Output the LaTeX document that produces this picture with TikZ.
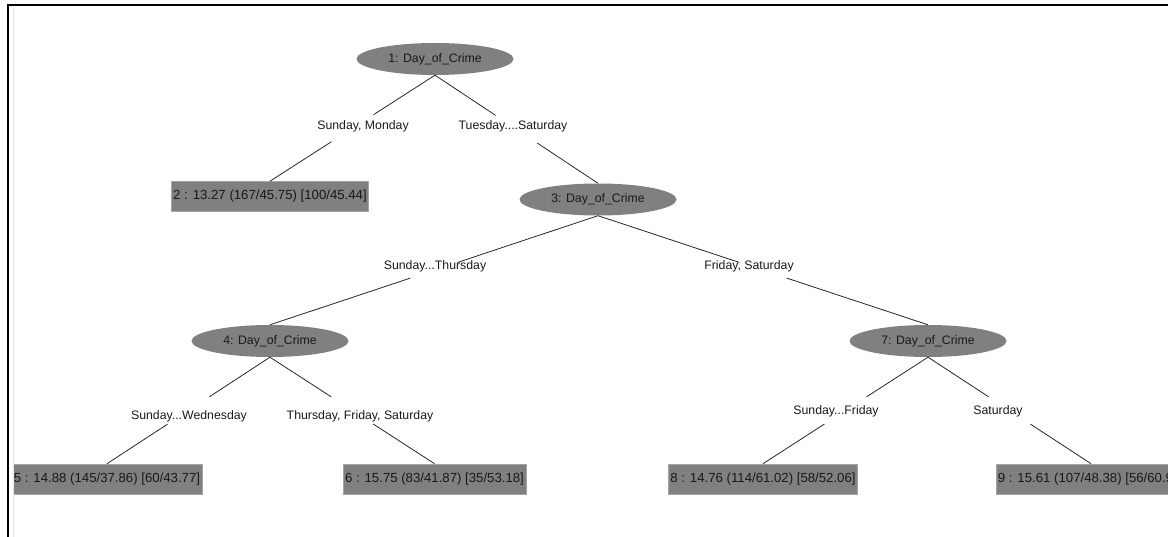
\documentclass[tikz,border=0pt]{standalone}
\usepackage{fontspec}
\setmainfont{Liberation Sans}
\usetikzlibrary{shapes.geometric}
\definecolor{nodegray}{RGB}{128,128,128}
\definecolor{textgray}{RGB}{25,25,25}
\definecolor{faintline}{RGB}{226,230,238}

\begin{document}
\begin{tikzpicture}[x=1pt, y=-1pt,
		split/.style = {ellipse, fill=nodegray, text=textgray, minimum width=157, minimum height=32, inner sep=0pt, font=\fontsize{12.3}{14}\selectfont},
		leaf/.style = {rectangle, fill=nodegray, draw=gray!70, line width=0.6, text=textgray, minimum height=30, inner xsep=2pt, font=\fontsize{13.2}{15}\selectfont},
		cond/.style = {text=textgray, inner sep=1pt, font=\fontsize{12.3}{14}\selectfont},
		edge/.style = {black!85, line width=0.8, shorten >=25pt}]
		\useasboundingbox (0,0) rectangle (1168,537);
		\draw[line width=2.5] (8,537) |- (1168,5);
		\draw[faintline, line width=1] (13,8) -- (13,537);
		\begin{scope}
		\clip (14,7) rectangle (1168,537);
		\node[split] (n1) at (435,59) {1: Day\_of\_Crime};
		\node[leaf] (n2) at (270,196.5) {2 : 13.27 (167/45.75) [100/45.44]};
		\node[split] (n3) at (598,199.5) {3: Day\_of\_Crime};
		\node[split] (n4) at (270,341) {4: Day\_of\_Crime};
		\node[split] (n7) at (928,341) {7: Day\_of\_Crime};
		\node[leaf] (n5) at (107,479) {5 : 14.88 (145/37.86) [60/43.77]};
		\node[leaf] (n6) at (434.5,479) {6 : 15.75 (83/41.87) [35/53.18]};
		\node[leaf] (n8) at (763,479) {8 : 14.76 (114/61.02) [58/52.06]};
		\node[leaf] (n9) at (1091,479) {9 : 15.61 (107/48.38) [56/60.9\phantom{0]}};
		% split conditions
		\node[cond] (c12) at (363,126) {Sunday, Monday};
		\node[cond] (c13) at (513,126) {Tuesday....Saturday};
		\node[cond] (c34) at (435,266) {Sunday...Thursday};
		\node[cond] (c37) at (749,266) {Friday, Saturday};
		\node[cond] (c45) at (189,416) {Sunday...Wednesday};
		\node[cond] (c46) at (360,416) {Thursday, Friday, Saturday};
		\node[cond] (c78) at (836,411) {Sunday...Friday};
		\node[cond] (c79) at (998,411) {Saturday};
		% edges, broken round the middle
		\foreach \p/\c in {n1/n2, n1/n3, n3/n4, n3/n7, n4/n5, n4/n6, n7/n8, n7/n9} {
			\path (\p.south) -- (\c.north) coordinate[midway] (m);
			\draw[edge] (\p.south) -- (m);
			\draw[edge] (\c.north) -- (m);
		}
		\end{scope}
	\end{tikzpicture}
\end{document}
